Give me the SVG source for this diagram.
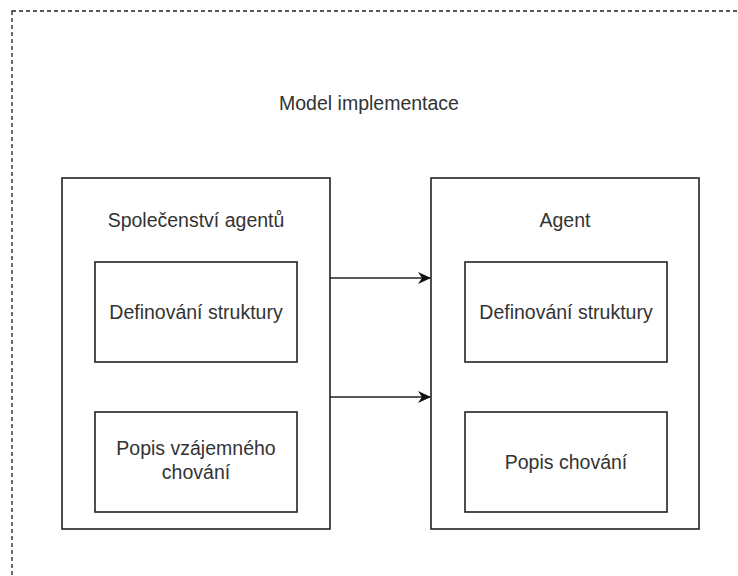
<svg xmlns="http://www.w3.org/2000/svg" width="738" height="576" viewBox="0 0 738 576">
<style>
.box{fill:#fff;stroke:#222;stroke-width:1.6}
.frame{fill:none;stroke:#222;stroke-width:1.3;stroke-dasharray:4 3}
.t{font-family:"Liberation Sans",Arial,sans-serif;font-size:19.5px;fill:#333;text-anchor:middle}
.c{fill:none;stroke:#222;stroke-width:1.6}
</style>
<defs>
<marker id="ah" viewBox="0 0 13 14" refX="12" refY="7" markerWidth="13" markerHeight="14" markerUnits="userSpaceOnUse" orient="auto">
<path d="M0,1 L13,7 L0,13 L4,7 Z" fill="#111"/>
</marker>
</defs>
<rect x="0" y="0" width="738" height="576" fill="#fff"/>
<g id="frame">
<rect class="frame" x="12" y="11" width="760" height="600"/>
<text class="t" x="369" y="110">Model implementace</text>
</g>
<g id="spolecenstvi">
<rect class="box" x="62" y="178" width="268" height="351"/>
<text class="t" x="196" y="227">Společenství agentů</text>
</g>
<g id="spol-def">
<rect class="box" x="95" y="262" width="202" height="100"/>
<text class="t" x="196" y="319">Definování struktury</text>
</g>
<g id="spol-popis">
<rect class="box" x="95" y="412" width="202" height="100"/>
<text class="t" x="196" y="455">Popis vzájemného</text>
<text class="t" x="196" y="479">chování</text>
</g>
<g id="agent">
<rect class="box" x="431" y="178" width="268" height="351"/>
<text class="t" x="565" y="227">Agent</text>
</g>
<g id="agent-def">
<rect class="box" x="465" y="262" width="202" height="100"/>
<text class="t" x="566" y="319">Definování struktury</text>
</g>
<g id="agent-popis">
<rect class="box" x="465" y="412" width="202" height="100"/>
<text class="t" x="566" y="469">Popis chování</text>
</g>
<g id="connectors">
<path class="c" d="M330,278 L430,278" marker-end="url(#ah)"/>
<path class="c" d="M330,397 L430,397" marker-end="url(#ah)"/>
</g>
</svg>
